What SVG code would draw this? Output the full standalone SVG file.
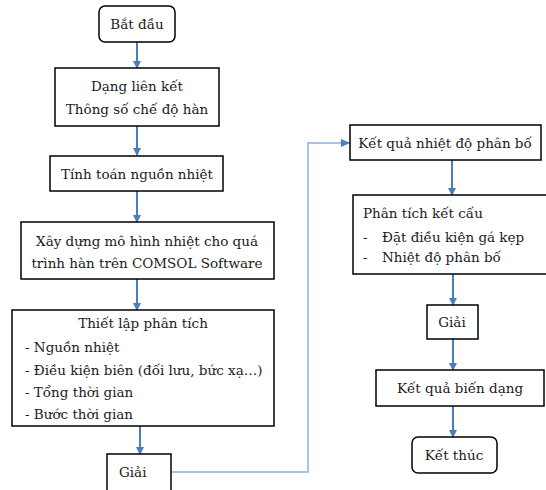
<svg xmlns="http://www.w3.org/2000/svg" width="546" height="490" viewBox="0 0 546 490">
<defs>
<style>
.box{fill:#fff;stroke:#000;stroke-width:1.5}
.t{font-family:'DejaVu Serif',serif;font-size:13.5px;fill:#1a1a1a}
.c{text-anchor:middle}
.ar{stroke:#4a7ebb;stroke-width:2;fill:none;marker-end:url(#ah)}
.ln{stroke:#8db0dc;stroke-width:1.5;fill:none;marker-end:url(#ah2)}
</style>
<marker id="ah" markerWidth="8" markerHeight="8" refX="7" refY="4" orient="auto" markerUnits="userSpaceOnUse">
<path d="M0,0 L8,4 L0,8 Z" fill="#4a7ebb"/>
</marker>
<marker id="ah2" markerWidth="9" markerHeight="8" refX="9" refY="4" orient="auto" markerUnits="userSpaceOnUse">
<path d="M0,0 L9,4 L0,8 Z" fill="#4a7ebb"/>
</marker>
</defs>
<rect width="546" height="490" fill="#fff"/>
<g id="connectors">
<path class="ar" d="M137,42 V68"/>
<path class="ar" d="M137,126 V155"/>
<path class="ar" d="M137,191 V222"/>
<path class="ar" d="M137,279 V310"/>
<path class="ar" d="M140,426 V454"/>
<path class="ln" d="M171,472 H308 V143 H350"/>
<path class="ar" d="M452,160 V195"/>
<path class="ar" d="M453,274 V305"/>
<path class="ar" d="M453,339 V370"/>
<path class="ar" d="M453,406 V437"/>
</g>
<g id="n-start">
<rect class="box" x="99" y="6" width="76" height="36" rx="6"/>
<text class="t c" x="137" y="29">Bắt đầu</text>
</g>
<g id="n-dang">
<rect class="box" x="55" y="68" width="164" height="58"/>
<text class="t c" x="137" y="91">Dạng liên kết</text>
<text class="t c" x="137" y="114">Thông số chế độ hàn</text>
</g>
<g id="n-tinh">
<rect class="box" x="50" y="156" width="173" height="35"/>
<text class="t c" x="137" y="179">Tính toán nguồn nhiệt</text>
</g>
<g id="n-xay">
<rect class="box" x="21" y="222" width="253" height="57"/>
<text class="t c" x="147" y="246">Xây dựng mô hình nhiệt cho quá</text>
<text class="t c" x="147" y="268">trình hàn trên COMSOL Software</text>
</g>
<g id="n-thiet">
<rect class="box" x="12" y="310" width="262" height="116"/>
<text class="t c" x="143" y="328">Thiết lập phân tích</text>
<text class="t" x="25" y="352">- Nguồn nhiệt</text>
<text class="t" x="25" y="375">- Điều kiện biên (đối lưu, bức xạ…)</text>
<text class="t" x="25" y="397">- Tổng thời gian</text>
<text class="t" x="25" y="419">- Bước thời gian</text>
</g>
<g id="n-giai1">
<rect class="box" x="107" y="454" width="64" height="40"/>
<text class="t" x="119" y="477">Giải</text>
</g>
<g id="n-ketqua">
<rect class="box" x="350" y="125" width="191" height="35"/>
<text class="t c" x="445" y="148">Kết quả nhiệt độ phân bố</text>
</g>
<g id="n-phantich">
<rect class="box" x="353" y="195" width="197" height="79"/>
<text class="t" x="363" y="218">Phân tích kết cấu</text>
<text class="t" x="363" y="242">-</text>
<text class="t" x="382" y="242">Đặt điều kiện gá kẹp</text>
<text class="t" x="363" y="262">-</text>
<text class="t" x="382" y="262">Nhiệt độ phân bố</text>
</g>
<g id="n-giai2">
<rect class="box" x="427" y="305" width="51" height="34"/>
<text class="t c" x="452" y="327">Giải</text>
</g>
<g id="n-bien">
<rect class="box" x="376" y="370" width="168" height="36"/>
<text class="t c" x="460" y="393">Kết quả biến dạng</text>
</g>
<g id="n-end">
<rect class="box" x="412" y="437" width="85" height="36" rx="6"/>
<text class="t c" x="454" y="460">Kết thúc</text>
</g>
</svg>
